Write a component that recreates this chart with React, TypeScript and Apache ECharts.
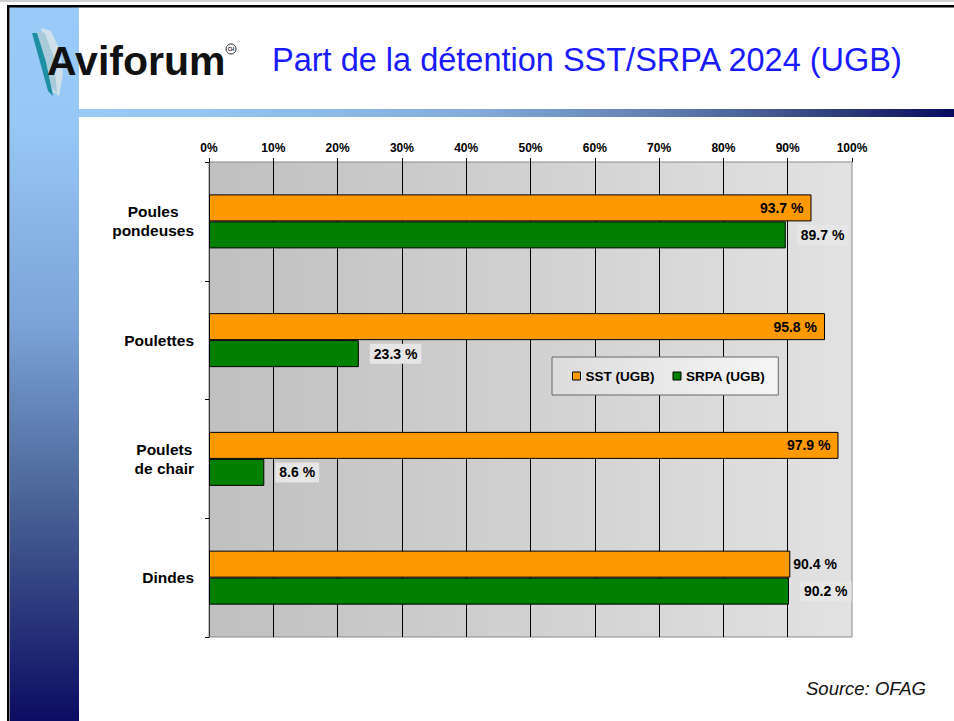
import React, { useEffect, useRef } from "react";
import * as echarts from "echarts";

const categories = ["Poules\npondeuses", "Poulettes", "Poulets\nde chair", "Dindes"];
const seriesNames = ["SST (UGB)", "SRPA (UGB)"];
const sstValues = [93.7, 95.8, 97.9, 90.4];
const srpaValues = [89.7, 23.3, 8.6, 90.2];
const xTickValues = [0, 10, 20, 30, 40, 50, 60, 70, 80, 90, 100];

const titleText = "Part de la détention SST/SRPA 2024 (UGB)";
const sourceText = "Source: OFAG";
const logoText = "Aviforum";

const FONT = "'Liberation Sans', Arial, Helvetica, sans-serif";

export default function App() {
  const ref = useRef<HTMLDivElement>(null);

  useEffect(() => {
    if (!ref.current) return;
    const chart = echarts.init(ref.current, undefined, { renderer: "svg" });

    const fmt = (v: number) => `${v.toFixed(1)} %`;

    const sstData = sstValues.map((v, i) => {
      const close = Math.abs(v - srpaValues[i]) < 1;
      return close
        ? { value: v, label: { position: "right", distance: 3 } }
        : { value: v };
    });

    const option: any = {
      animation: false,
      backgroundColor: "#ffffff",
      textStyle: { fontFamily: FONT },
      grid: {
        left: 209,
        right: 102,
        top: 162,
        bottom: 84,
        show: true,
        backgroundColor: {
          type: "linear",
          x: 0,
          y: 0,
          x2: 1,
          y2: 0,
          colorStops: [
            { offset: 0, color: "#c0c0c0" },
            { offset: 1, color: "#e2e2e2" },
          ],
        },
        borderColor: "#8a8a8a",
        borderWidth: 1,
      },
      legend: {
        data: seriesNames,
        orient: "horizontal",
        left: 552,
        top: 357,
        icon: "rect",
        itemWidth: 8,
        itemHeight: 8,
        itemGap: 18,
        padding: [12, 13, 12, 20],
        itemStyle: { borderColor: "#000", borderWidth: 1 },
        textStyle: { fontFamily: FONT, fontWeight: "bold", fontSize: 13.5, color: "#000" },
        backgroundColor: {
          type: "linear",
          x: 0,
          y: 0,
          x2: 1,
          y2: 0,
          colorStops: [
            { offset: 0, color: "#dcdcdc" },
            { offset: 1, color: "#f6f6f6" },
          ],
        },
        borderColor: "#666666",
        borderWidth: 1,
      },
      xAxis: {
        type: "value",
        position: "top",
        min: xTickValues[0],
        max: xTickValues[xTickValues.length - 1],
        interval: xTickValues[1] - xTickValues[0],
        axisLine: { show: false },
        axisTick: { show: true, length: 4, lineStyle: { color: "#000" } },
        axisLabel: {
          formatter: "{value}%",
          fontFamily: FONT,
          fontWeight: "bold",
          fontSize: 12,
          color: "#000",
          margin: 8,
        },
        splitLine: {
          show: true,
          showMinLine: false,
          showMaxLine: false,
          lineStyle: { color: "#000", width: 1 },
        },
      },
      yAxis: {
        type: "category",
        data: categories,
        inverse: true,
        axisLine: { show: true, lineStyle: { color: "#333" } },
        axisTick: { show: true, length: 4, alignWithLabel: false, lineStyle: { color: "#000" } },
        axisLabel: {
          align: "right",
          margin: 15,
          formatter: (v: string) => v.split("\n").map((s) => `{a|${s}}`).join("\n"),
          rich: {
            a: {
              align: "center",
              fontFamily: FONT,
              fontWeight: "bold",
              fontSize: 15.5,
              lineHeight: 19,
              color: "#000",
            },
          },
        },
      },
      series: [
        {
          name: seriesNames[0],
          type: "bar",
          data: sstData,
          barWidth: 27,
          barGap: "0%",
          itemStyle: { color: "#ff9900", borderColor: "#000", borderWidth: 1 },
          label: {
            show: true,
            position: "insideRight",
            distance: 8,
            formatter: (p: any) => fmt(p.value),
            fontFamily: FONT,
            fontWeight: "bold",
            fontSize: 14,
            color: "#000",
          },
        },
        {
          name: seriesNames[1],
          type: "bar",
          data: srpaValues,
          barWidth: 27,
          barGap: "0%",
          itemStyle: { color: "#008000", borderColor: "#000", borderWidth: 1 },
          label: {
            show: true,
            position: "right",
            distance: 11,
            formatter: (p: any) => fmt(p.value),
            fontFamily: FONT,
            fontWeight: "bold",
            fontSize: 14,
            color: "#000",
            backgroundColor: "#e6e6e6",
            padding: [3, 4, 3, 4],
          },
        },
      ],
      graphic: [
        { type: "rect", z: 0, shape: { x: 0, y: 0, width: 954, height: 2 }, style: { fill: "#cfcfcf" } },
        {
          type: "rect",
          z: 1,
          shape: { x: 10, y: 7, width: 69, height: 714 },
          style: {
            fill: {
              type: "linear",
              x: 0,
              y: 0,
              x2: 0,
              y2: 1,
              colorStops: [
                { offset: 0, color: "#99caf8" },
                { offset: 0.17, color: "#97c7f5" },
                { offset: 0.45, color: "#7aa2d6" },
                { offset: 0.69, color: "#4a6496" },
                { offset: 1, color: "#0c0c62" },
              ],
            },
          },
        },
        {
          type: "rect",
          z: 1,
          shape: { x: 79, y: 109, width: 875, height: 8 },
          style: {
            fill: {
              type: "linear",
              x: 0,
              y: 0,
              x2: 1,
              y2: 0,
              colorStops: [
                { offset: 0, color: "#99caf8" },
                { offset: 0.15, color: "#93c5f5" },
                { offset: 0.45, color: "#84acdc" },
                { offset: 0.7, color: "#5a76a8" },
                { offset: 0.88, color: "#2c3a78" },
                { offset: 1, color: "#0a0a5e" },
              ],
            },
          },
        },
        { type: "rect", z: 2, shape: { x: 7, y: 5, width: 947, height: 2.5 }, style: { fill: "#000" } },
        { type: "rect", z: 2, shape: { x: 7, y: 5, width: 2.5, height: 716 }, style: { fill: "#000" } },
        {
          type: "polygon",
          z: 3,
          shape: { points: [[41, 28], [51, 31], [60, 50], [63, 74], [59, 96], [53, 92], [47, 60]] },
          style: { fill: "#cfe0ea" },
        },
        {
          type: "polygon",
          z: 3,
          shape: { points: [[37, 31], [45, 33], [54, 58], [57, 94], [51, 86], [44, 58]] },
          style: { fill: "#a9cbd9" },
        },
        {
          type: "polygon",
          z: 3,
          shape: { points: [[32, 33], [37, 33], [46, 62], [53, 96], [48, 91], [40, 62]] },
          style: { fill: "#1c8fa2" },
        },
        {
          type: "text",
          z: 4,
          x: 47,
          y: 61,
          style: {
            text: logoText,
            fontFamily: FONT,
            fontWeight: "bold",
            fontSize: 41,
            fill: "#111111",
            align: "left",
            verticalAlign: "middle",
          },
        },
        {
          type: "circle",
          z: 4,
          shape: { cx: 231, cy: 49, r: 5 },
          style: { fill: "#fff", stroke: "#222", lineWidth: 1 },
        },
        {
          type: "text",
          z: 5,
          x: 231,
          y: 49,
          style: {
            text: "CH",
            fontFamily: FONT,
            fontSize: 4.5,
            fontWeight: "bold",
            fill: "#222",
            align: "center",
            verticalAlign: "middle",
          },
        },
        {
          type: "text",
          z: 4,
          x: 272,
          y: 60,
          style: {
            text: titleText,
            fontFamily: FONT,
            fontSize: 32.5,
            fill: "#1a1aff",
            align: "left",
            verticalAlign: "middle",
          },
        },
        {
          type: "text",
          z: 4,
          x: 806,
          y: 688,
          style: {
            text: sourceText,
            fontFamily: FONT,
            fontStyle: "italic",
            fontSize: 18.5,
            fill: "#111",
            align: "left",
            verticalAlign: "middle",
          },
        },
      ],
    };

    chart.setOption(option);
    return () => chart.dispose();
  }, []);

  return (
    <div
      ref={ref}
      style={{ position: "fixed", left: 0, top: 0, width: 954, height: 721 }}
    />
  );
}
